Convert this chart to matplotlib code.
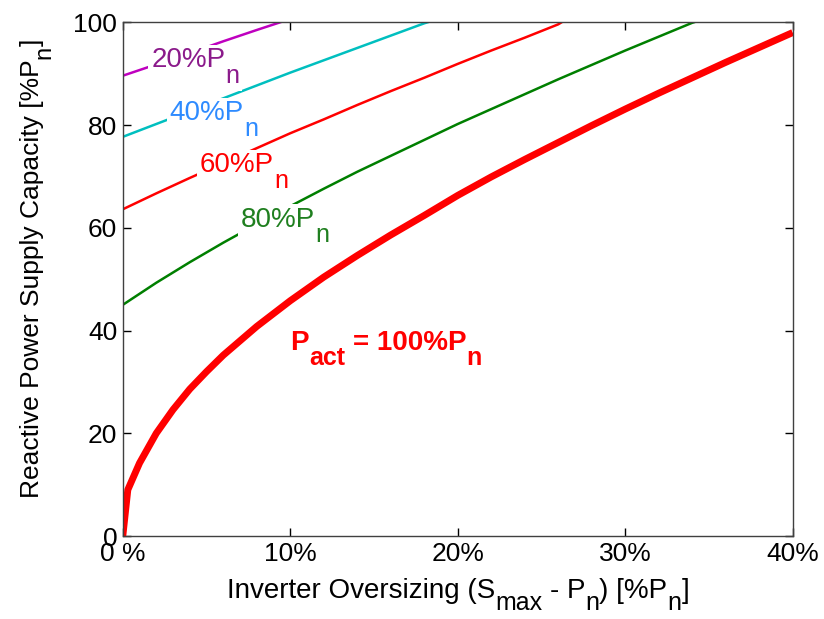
import numpy as np
import matplotlib.pyplot as plt
from matplotlib.transforms import offset_copy

plt.rcParams['font.family'] = ['Liberation Sans', 'DejaVu Sans']

# Inverter oversizing [%Pn] and reactive power capacity [%Pn]
x_100 = [0, 0.3, 1, 2, 3, 4, 5, 6, 8, 10, 12, 14, 16, 18, 20, 22, 24, 26, 28, 30, 32, 34, 36, 38, 40]
q_100 = [0, 9, 14.2, 20, 24.6, 28.6, 32, 35.2, 40.8, 45.8, 50.4, 54.6, 58.6, 62.4, 66.3, 69.9,
         73.3, 76.6, 79.9, 83.1, 86.2, 89.2, 92.2, 95.1, 98.0]

x_80 = [0, 2, 4, 6, 8, 10, 12, 14, 16, 18, 20, 22, 24, 26, 28, 30, 32, 34, 34.1]
q_80 = [45.0, 49.3, 53.3, 57.1, 60.7, 64.2, 67.6, 70.9, 74.0, 77.1, 80.2, 83.1, 86.0, 88.9,
        91.7, 94.5, 97.2, 99.9, 100]

x_60 = [0, 2, 4, 6, 8, 10, 12, 14, 16, 18, 20, 22, 24, 26, 26.2]
q_60 = [63.6, 66.7, 69.7, 72.6, 75.5, 78.4, 81.1, 83.9, 86.6, 89.2, 91.9, 94.5, 97.0, 99.6, 100]

x_40 = [0, 2, 4, 6, 8, 10, 12, 14, 16, 18, 18.2]
q_40 = [77.7, 80.2, 82.7, 85.2, 87.7, 90.2, 92.6, 95.0, 97.4, 99.8, 100]

x_20 = [0, 2, 4, 6, 8, 9.4]
q_20 = [89.6, 91.8, 94.0, 96.3, 98.5, 100]

xtick_vals = [0, 10, 20, 30, 40]
xtick_labels = ['0 %', '10%', '20%', '30%', '40%']
ytick_vals = [0, 20, 40, 60, 80, 100]


def rich_text(fig, x, y, pieces, transform, size=20, color='black', weight='normal',
              rotation=0, ha='left', box=False, drop=0.55):
    """
    Draw text made of (string, is_subscript) pieces; subscripts are nearly full size
    """
    r = fig.canvas.get_renderer()
    px = fig.dpi / 72
    space = 0.278 * size * px
    widths = []
    for s, sub in pieces:
        t = fig.text(0, 0, s.strip(), fontsize=size * (0.9 if sub else 1), fontweight=weight)
        w = t.get_window_extent(r).width
        t.remove()
        nlead = len(s) - len(s.lstrip())
        ntrail = len(s) - len(s.rstrip())
        widths.append((w, nlead * space, ntrail * space))
    total = sum(a + b + c for a, b, c in widths)
    adv = 0 if ha == 'left' else -total / 2
    for (s, sub), (w, lead, trail) in zip(pieces, widths):
        d = drop * size * px if sub else 0
        adv += lead
        if rotation == 0:
            dx, dy = adv, -d
        else:
            dx, dy = d, adv
        tr = offset_copy(transform, fig=fig, x=dx, y=dy, units='dots')
        kw = {}
        if box:
            kw['bbox'] = dict(facecolor='white', edgecolor='none', pad=2)
        fig.text(x, y, s.strip(), transform=tr, fontsize=size * (0.9 if sub else 1),
                 fontweight=weight, color=color, rotation=rotation, ha='left', va='baseline',
                 rotation_mode='anchor', zorder=3, **kw)
        adv += w + trail


fig = plt.figure(figsize=(8.24, 6.19), dpi=100)
ax = fig.add_axes([0.149, 0.134, 0.813, 0.830])

ax.plot(x_20, q_20, color='#BF00BF', lw=1.8, zorder=2)
ax.plot(x_40, q_40, color='#00BFBF', lw=1.8, zorder=2)
ax.plot(x_60, q_60, color='#FF0000', lw=1.8, zorder=2)
ax.plot(x_80, q_80, color='#007F00', lw=1.8, zorder=2)
ax.plot(x_100, q_100, color='#FF0000', lw=5, zorder=2, solid_capstyle='butt')

ax.set_xlim(0, 40)
ax.set_ylim(0, 100)
ax.set_xticks(xtick_vals)
ax.set_xticklabels(xtick_labels)
ax.set_yticks(ytick_vals)
ax.tick_params(direction='in', length=6, width=1, labelsize=19, top=True, right=True, pad=4)
for s in ax.spines.values():
    s.set_color('#404040')
    s.set_linewidth(1)

# curve labels
rich_text(fig, 1.7, 91.2, [('20%P', False), ('n', True)], ax.transData, color='#8B1A8B', box=True)
rich_text(fig, 2.8, 80.9, [('40%P', False), ('n', True)], ax.transData, color='#2E8BFF', box=True)
rich_text(fig, 4.6, 70.8, [('60%P', False), ('n', True)], ax.transData, color='#FF0000', box=True)
rich_text(fig, 7.05, 60.2, [('80%P', False), ('n', True)], ax.transData, color='#1F7F1F', box=True)
rich_text(fig, 10.0, 36.2, [('P', False), ('act', True), (' = 100%P', False), ('n', True)],
          ax.transData, color='#FF0000', weight='bold')

# axis labels
rich_text(fig, 458 / 824, 21 / 619,
          [('Inverter Oversizing (S', False), ('max', True), (' - P', False), ('n', True),
           (') [%P', False), ('n', True), (']', False)],
          fig.transFigure, ha='center', drop=0.45)
rich_text(fig, 39 / 824, 351 / 619,
          [('Reactive Power Supply Capacity [%P', False), ('n', True), (']', False)],
          fig.transFigure, size=19, rotation=90, ha='center', drop=0.45)

fig.savefig('out.png', dpi=100)
